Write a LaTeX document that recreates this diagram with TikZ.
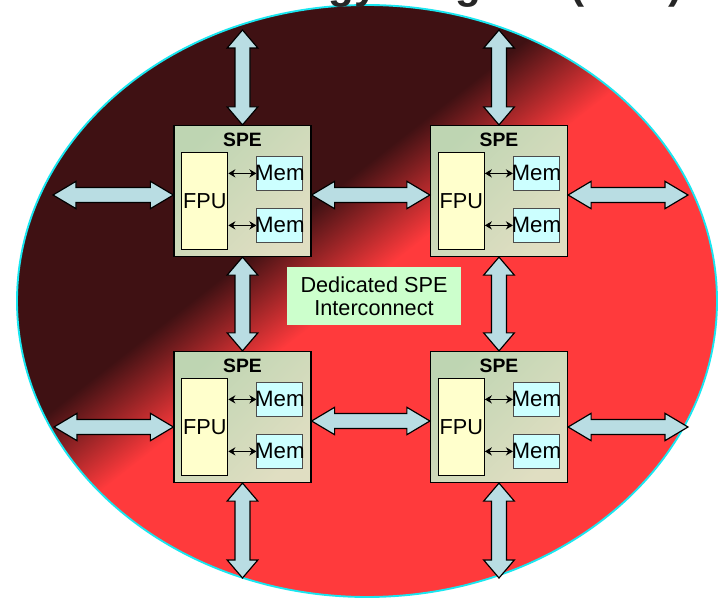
\documentclass[tikz,border=0pt]{standalone}
\usepackage{fontspec}
\setmainfont{Liberation Sans}
\usetikzlibrary{calc,arrows.meta}

\definecolor{darkm}{HTML}{3F1113}
\definecolor{redm}{HTML}{FF3A3C}
\definecolor{rimcyan}{HTML}{19E6F0}
\definecolor{arrowblue}{HTML}{B9DDE3}
\definecolor{spegreen}{HTML}{BED5B2}
\definecolor{spebeige}{HTML}{E0DEC2}
\definecolor{fpuyellow}{HTML}{FFFFCC}
\definecolor{memcyan}{HTML}{CCFFFF}
\definecolor{dedgreen}{HTML}{CCFFCC}

\pgfdeclarehorizontalshading{redsplit}{100bp}{color(0bp)=(darkm); color(42.5bp)=(darkm); color(49bp)=(redm); color(100bp)=(redm)}

\tikzset{
  head len/.store in=\hdlen, head half/.store in=\hdhalf, shaft half/.store in=\shhalf,
  head len=0.69cm, head half=0.41cm, shaft half=0.225cm,
  blockarrow/.style={draw=black, fill=arrowblue, line width=1pt,
    to path={
      -- ($(\tikztostart)!\hdlen!(\tikztotarget)!\hdhalf!90:(\tikztotarget)$)
      -- ($(\tikztostart)!\hdlen!(\tikztotarget)!\shhalf!90:(\tikztotarget)$)
      -- ($(\tikztotarget)!\hdlen!(\tikztostart)!\shhalf!-90:(\tikztostart)$)
      -- ($(\tikztotarget)!\hdlen!(\tikztostart)!\hdhalf!-90:(\tikztostart)$)
      -- (\tikztotarget)
      -- ($(\tikztotarget)!\hdlen!(\tikztostart)!\hdhalf!90:(\tikztostart)$)
      -- ($(\tikztotarget)!\hdlen!(\tikztostart)!\shhalf!90:(\tikztostart)$)
      -- ($(\tikztostart)!\hdlen!(\tikztotarget)!\shhalf!-90:(\tikztotarget)$)
      -- ($(\tikztostart)!\hdlen!(\tikztotarget)!\hdhalf!-90:(\tikztotarget)$)
      -- cycle}},
  harrow/.style={blockarrow, head len=0.69cm, head half=0.41cm},
  varrow/.style={blockarrow, head len=0.54cm, head half=0.46cm},
  spebox/.style={draw=black, line width=1pt, inner sep=0pt,
    top color=spegreen, bottom color=spebeige, shading angle=45,
    minimum width=4.11cm, minimum height=3.93cm},
  spetitle/.style={font=\fontsize{16.5}{18}\selectfont\bfseries, inner sep=0pt},
  fpubox/.style={draw=black, line width=0.8pt, fill=fpuyellow, inner sep=0pt,
    minimum width=1.38cm, minimum height=2.91cm, font=\fontsize{18.5}{20}\selectfont},
  membox/.style={draw=black!70, line width=0.8pt, fill=memcyan, inner sep=0pt,
    minimum width=1.38cm, minimum height=1.02cm, font=\fontsize{19}{20}\selectfont},
  linkarrow/.style={{Stealth[length=6pt,width=7pt]}-{Stealth[length=6pt,width=7pt]}, line width=1.4pt},
  dedbox/.style={fill=dedgreen, inner sep=0pt, align=center,
    minimum width=5.22cm, minimum height=1.74cm, font=\fontsize{18.5}{20}\selectfont},
  titletext/.style={font=\fontsize{36}{40}\selectfont\bfseries, text=black!85, inner sep=0pt},
}

\begin{document}
\begin{tikzpicture}[x=0.03cm, y=-0.03cm]
\useasboundingbox (0,0) rectangle (721,599);

% the disc, dark in the upper left, red in the lower right
\begin{scope}
  \clip (367,301) ellipse [x radius=350, y radius=296];
  \shade[shading=redsplit, shading angle=-52] (7,-59) rectangle (727,661);
\end{scope}
\draw[rimcyan, line width=1.6pt] (367,301) ellipse [x radius=350, y radius=296];

\node[dedbox] (ded) at (374,296) {Dedicated SPE\\Interconnect};

% the four SPEs
\foreach \n/\x/\y in {tl/242.5/191, tr/499/191, bl/242.5/417, br/499/417} {
  \node[spebox] (\n) at (\x,\y) {};
  \node[spetitle] (\n-t) at ([shift={(0,15)}]\n.north) {SPE};
  \node[fpubox, anchor=north west] (\n-fpu) at ([shift={(8,27)}]\n.north west) {FPU};
  \node[membox, anchor=north west] (\n-m1) at ([shift={(83,31)}]\n.north west) {\makebox[0pt]{Mem}};
  \node[membox, anchor=north west] (\n-m2) at ([shift={(83,83)}]\n.north west) {\makebox[0pt]{Mem}};
  \draw[linkarrow] (\n-fpu.east |- \n-m1.west) -- (\n-m1.west);
  \draw[linkarrow] (\n-fpu.east |- \n-m2.west) -- (\n-m2.west);
}

% free ends of the links
\coordinate (tl-w) at (53,195);
\coordinate (tr-e) at (688,195);
\coordinate (tl-n) at (242.5,30);
\coordinate (tr-n) at (499,30);
\coordinate (bl-w) at (54,427);
\coordinate (br-e) at (688,427);
\coordinate (bl-s) at (242.5,578);
\coordinate (br-s) at (499,578);

% links
\draw[harrow] ([shift={(0,4)}]tl.west) to (tl-w);
\draw[harrow] ([shift={(0,4)}]tl.east) to ([shift={(0,4)}]tr.west);
\draw[harrow] ([shift={(0,4)}]tr.east) to (tr-e);
\draw[varrow] (tl.north) to (tl-n);
\draw[varrow] (tr.north) to (tr-n);
\draw[varrow] (tl.south) to (bl.north);
\draw[varrow] (tr.south) to (br.north);
\draw[harrow] ([shift={(0,10)}]bl.west) to (bl-w);
\draw[harrow] ([shift={(0,4)}]bl.east) to ([shift={(0,4)}]br.west);
\draw[harrow] ([shift={(0,10)}]br.east) to (br-e);
\draw[varrow] (bl.south) to (bl-s);
\draw[varrow] (br.south) to (br-s);

\node[titletext, anchor=base east] (title) at (683,-1) {Technology Diagram (SPE)};
\end{tikzpicture}
\end{document}
